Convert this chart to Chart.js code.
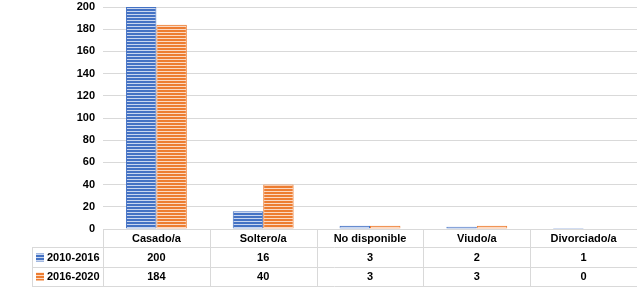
<!DOCTYPE html>
<html>
<head>
<meta charset="utf-8">
<script src="https://cdn.jsdelivr.net/npm/chart.js@4/dist/chart.umd.min.js"></script>
<style>
  html, body { margin: 0; padding: 0; background: #fff; }
  #wrap { width: 637px; height: 288px; }
</style>
</head>
<body>
<div id="wrap"><canvas id="chart" width="637" height="288"></canvas></div>
<script>
var categories = ['Casado/a', 'Soltero/a', 'No disponible', 'Viudo/a', 'Divorciado/a'];
var seriesNames = ['2010-2016', '2016-2020'];
var values2010 = [200, 16, 3, 2, 1];
var values2016 = [184, 40, 3, 3, 0];
var yTicks = [0, 20, 40, 60, 80, 100, 120, 140, 160, 180, 200];

var FONT = '"Liberation Sans", Arial, sans-serif';
var colors = ['#4472c4', '#ed7d31'];
var lightColors = ['#c9d6ef', '#fbd9c3'];

// horizontal striped fill like the excel pattern
function stripes(base, light) {
  var c = document.createElement('canvas');
  c.width = 4; c.height = 3;
  var ctx = c.getContext('2d');
  ctx.fillStyle = base;
  ctx.fillRect(0, 0, 4, 3);
  ctx.fillStyle = light;
  ctx.fillRect(0, 2, 4, 1);
  return ctx.createPattern(c, 'repeat');
}

var patterns = [stripes(colors[0], lightColors[0]), stripes(colors[1], lightColors[1])];

// ==========================================================================
// Data table under the plot
// ==========================================================================
var dataTable = {
  id: 'dataTable',
  afterDraw: function(chart) {
    var ctx = chart.ctx,
        area = chart.chartArea,
        xs = chart.scales.x;
    var rowH = 19,
        top = area.bottom,
        left = 32;
    var rows = [values2010, values2016];
    var n = categories.length;
    var colW = (area.right - area.left) / n;

    ctx.save();
    ctx.strokeStyle = '#d9d9d9';
    ctx.lineWidth = 1;
    ctx.beginPath();
    // horizontal lines
    ctx.moveTo(area.left, top + 0.5); ctx.lineTo(area.right, top + 0.5);
    for (var r = 1; r <= 3; r++) {
      var y = Math.round(top + rowH * r - (r > 1 ? 0 : 1)) + 0.5;
      ctx.moveTo(left, y); ctx.lineTo(area.right, y);
    }
    // vertical lines
    ctx.moveTo(left + 0.5, top + rowH - 1); ctx.lineTo(left + 0.5, top + rowH * 3);
    for (var i = 0; i < n; i++) {
      var x = Math.round(area.left + colW * i) + 0.5;
      ctx.moveTo(x, top); ctx.lineTo(x, top + rowH * 3);
    }
    ctx.stroke();

    ctx.fillStyle = '#000';
    ctx.font = 'bold 11px ' + FONT;
    ctx.textAlign = 'center';
    ctx.textBaseline = 'middle';
    for (var j = 0; j < n; j++) {
      var cx = xs.getPixelForValue(j);
      ctx.fillText(categories[j], cx, top + rowH * 0.5);
      for (var k = 0; k < rows.length; k++) {
        ctx.fillText(String(rows[k][j]), cx, top + rowH * (k + 1.5));
      }
    }

    // legend keys
    ctx.textAlign = 'left';
    for (var s = 0; s < seriesNames.length; s++) {
      var cy = top + rowH * (s + 1.5);
      ctx.fillStyle = patterns[s];
      ctx.fillRect(36, cy - 4, 8, 8);
      ctx.fillStyle = '#000';
      ctx.fillText(seriesNames[s], 47, cy);
    }
    ctx.restore();
  }
};

new Chart(document.getElementById('chart'), {
  type: 'bar',
  data: {
    labels: categories,
    datasets: [
      {
        label: seriesNames[0],
        data: values2010,
        backgroundColor: patterns[0],
        borderColor: colors[0],
        borderWidth: 1
      },
      {
        label: seriesNames[1],
        data: values2016,
        backgroundColor: patterns[1],
        borderColor: colors[1],
        borderWidth: 1
      }
    ]
  },
  options: {
    responsive: false,
    animation: false,
    layout: { padding: { top: 7, right: 0, bottom: 59, left: 0 } },
    plugins: {
      legend: { display: false },
      tooltip: { enabled: false }
    },
    datasets: {
      bar: { categoryPercentage: 0.57, barPercentage: 1.0 }
    },
    scales: {
      x: { display: false },
      y: {
        min: 0,
        max: 200,
        afterFit: function(scale) {
          scale.width = 103;
          scale.paddingTop = 0;
          scale.paddingBottom = 0;
        },
        afterBuildTicks: function(scale) {
          scale.ticks = yTicks.map(function(v) { return { value: v }; });
        },
        border: { display: false },
        grid: { color: '#d9d9d9', drawTicks: false },
        ticks: {
          padding: 8,
          color: '#000',
          font: { family: FONT, size: 11, weight: 'bold' }
        }
      }
    }
  },
  plugins: [dataTable]
});
</script>
</body>
</html>
